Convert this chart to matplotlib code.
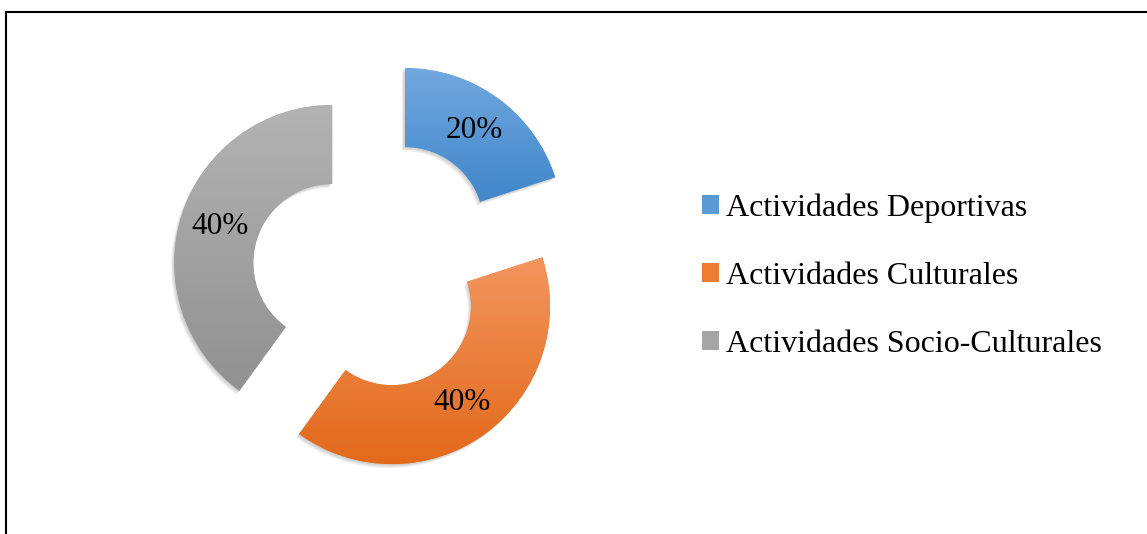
import numpy as np
import matplotlib.pyplot as plt
from matplotlib.patches import Patch, Wedge
from matplotlib.colors import LinearSegmentedColormap
from matplotlib.lines import Line2D

categories = ["Actividades Deportivas", "Actividades Culturales", "Actividades Socio-Culturales"]
values = [20, 40, 40]

top_colors = ["#72a8df", "#f2965f", "#b3b3b3"]
bottom_colors = ["#3f86c9", "#e2691a", "#919191"]
base_colors = ["#5b9bd5", "#ed7d31", "#a5a5a5"]

plt.rcParams['font.family'] = ['Liberation Serif', 'DejaVu Serif']

W, H = 1147, 534
fig = plt.figure(figsize=(W / 100, H / 100), dpi=100)
ax = fig.add_axes([0, 0, 1, 1])

radius = 158
center = (369.4, 259)
explode = [60.5, 38.5, 39]

wedges, texts, autotexts = ax.pie(
    values, radius=radius, center=center, explode=explode,
    startangle=90, counterclock=False, colors=base_colors,
    autopct='%1.0f%%', pctdistance=0.75,
    wedgeprops=dict(width=radius * 0.5, linewidth=0),
    textprops=dict(fontsize=22.5, color='black'), frame=True)

for w, ct, cb in zip(wedges, top_colors, bottom_colors):
    # soft shadow
    for k in range(1, 5):
        sh = Wedge((w.center[0] - 0.8 * k, w.center[1] - 1.0 * k), w.r, w.theta1, w.theta2,
                   width=w.width, facecolor='black', alpha=0.05, linewidth=0, zorder=0.5)
        ax.add_patch(sh)
    path = w.get_path().transformed(w.get_patch_transform())
    ext = path.get_extents()
    grad = np.linspace(0, 1, 256).reshape(-1, 1)
    cmap = LinearSegmentedColormap.from_list('g', [cb, ct])
    im = ax.imshow(grad, extent=[ext.x0, ext.x1, ext.y0, ext.y1], origin='lower',
                   cmap=cmap, aspect='auto', zorder=1.5, interpolation='bilinear')
    im.set_clip_path(w)

for t in autotexts:
    t.set_zorder(5)

handles = [Patch(facecolor=c, edgecolor='none') for c in base_colors]
ax.legend(handles, categories, loc='center left', bbox_to_anchor=(702 / W, 1 - 276 / H),
          bbox_transform=fig.transFigure, frameon=False, fontsize=23,
          handlelength=0.52, handleheight=0.52, handletextpad=0.22,
          labelspacing=1.22, borderpad=0, borderaxespad=0)

ax.set_xlim(0, W)
ax.set_ylim(0, H)
ax.set_aspect('equal')
ax.axis('off')

fig.add_artist(Line2D([6.3 / W, 1], [1 - 12 / H, 1 - 12 / H], transform=fig.transFigure,
                      color='black', lw=1.5))
fig.add_artist(Line2D([6.3 / W, 6.3 / W], [0, 1 - 12 / H], transform=fig.transFigure,
                      color='black', lw=1.5))

fig.savefig('out.png', dpi=100)
